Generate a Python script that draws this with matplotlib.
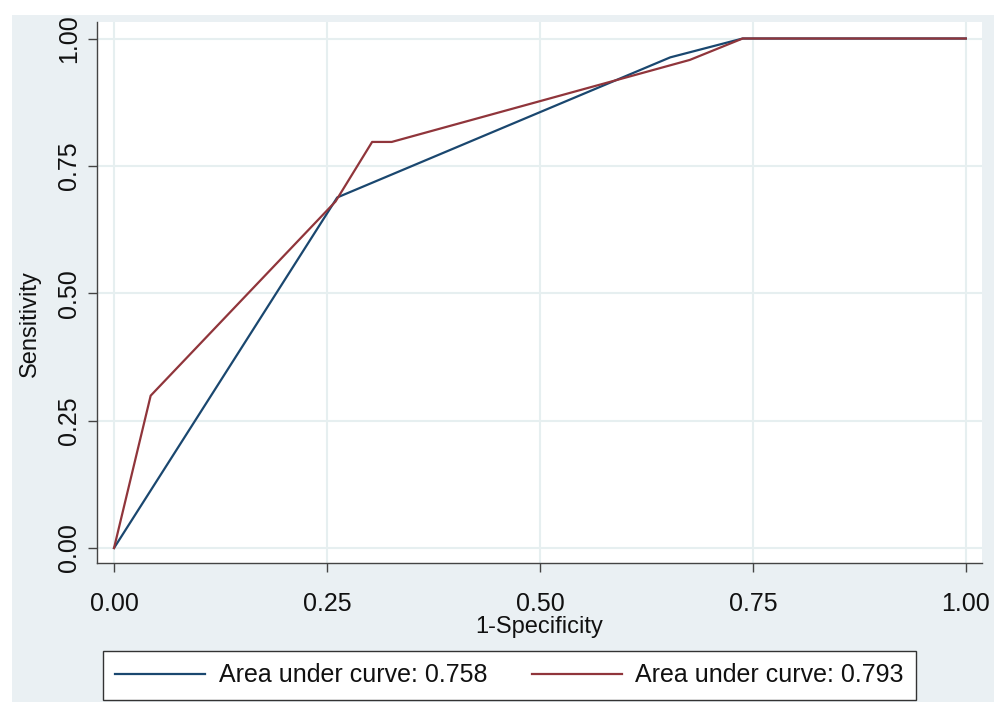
import matplotlib.pyplot as plt
from matplotlib.patches import Rectangle
from matplotlib.lines import Line2D

# ROC curves
fpr_a = [0.0, 0.262, 0.653, 0.738, 1.0]
tpr_a = [0.0, 0.688, 0.963, 1.0, 1.0]
fpr_b = [0.0, 0.043, 0.260, 0.303, 0.326, 0.676, 0.738, 1.0]
tpr_b = [0.0, 0.299, 0.680, 0.797, 0.797, 0.958, 1.0, 1.0]
labels = ['Area under curve: 0.758', 'Area under curve: 0.793']
ticks = [0.0, 0.25, 0.5, 0.75, 1.0]
tick_labels = ['0.00', '0.25', '0.50', '0.75', '1.00']

navy = '#1a476f'
maroon = '#90353b'
bg = '#eaf0f3'
grid_c = '#e6eff0'

plt.rcParams['font.family'] = ['Liberation Sans', 'DejaVu Sans']

W, H = 995, 702
fig = plt.figure(figsize=(W / 100, H / 100), dpi=100)
fig.patch.set_facecolor('white')
fig.patches.append(Rectangle((12 / W, 0), (W - 12) / W, (H - 15) / H,
                             transform=fig.transFigure, facecolor=bg,
                             edgecolor='none', zorder=-10))

ax = fig.add_axes([97 / W, (H - 563) / H, (982 - 97) / W, (563 - 22) / H])
ax.set_facecolor('white')
ax.plot(fpr_a, tpr_a, color=navy, lw=1.6, label=labels[0], zorder=3)
ax.plot(fpr_b, tpr_b, color=maroon, lw=1.6, label=labels[1], zorder=3)

ax.set_xlim(-0.02, 1.019)
ax.set_ylim(-0.0294, 1.0324)
ax.set_xticks(ticks)
ax.set_xticklabels(tick_labels)
ax.set_yticks(ticks)
ax.set_yticklabels(tick_labels, rotation=90, va='center')
ax.grid(True, color=grid_c, lw=1.5, zorder=0)
ax.set_axisbelow(True)

for s in ['top', 'right']:
    ax.spines[s].set_visible(False)
for s in ['left', 'bottom']:
    ax.spines[s].set_color('#444444')
    ax.spines[s].set_linewidth(1.0)
ax.tick_params(direction='out', length=6.5, width=1, color='#444444',
               labelsize=18, labelcolor='#111111')
ax.tick_params(axis='x', pad=14.5)
ax.tick_params(axis='y', pad=5)

ax.set_xlabel('1-Specificity', fontsize=17, labelpad=0, color='#111111')
ax.set_ylabel('Sensitivity', fontsize=17, color='#111111')
ax.yaxis.set_label_coords(-0.063, (563 - 324) / 541)

handles = [Line2D([], [], color=navy, lw=1.6), Line2D([], [], color=maroon, lw=1.6)]
leg = fig.legend(handles, labels, ncol=2, loc='lower left',
                 bbox_to_anchor=(103 / W, 2 / H),
                 fontsize=18, handlelength=3.6, handletextpad=0.55,
                 columnspacing=1.75,
                 frameon=True, fancybox=False, borderaxespad=0, borderpad=0.5)
leg.get_frame().set_edgecolor('#333333')
leg.get_frame().set_linewidth(1.0)
leg.get_frame().set_facecolor('white')
leg.get_frame().set_alpha(1)
for t in leg.get_texts():
    t.set_color('#111111')

fig.savefig('out.png', dpi=100, facecolor=fig.get_facecolor())
